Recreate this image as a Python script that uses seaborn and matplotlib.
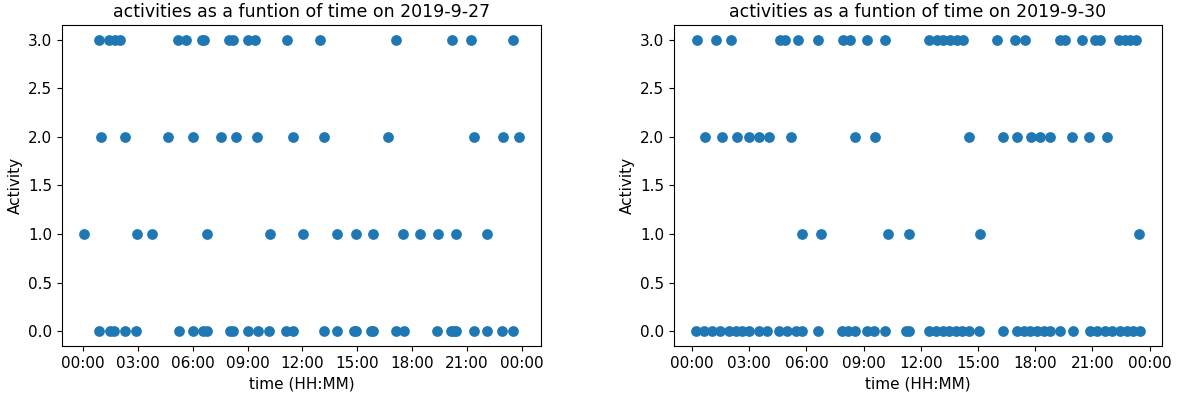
import pandas as pd
import matplotlib
matplotlib.use("Agg")
import matplotlib.pyplot as plt
import matplotlib.dates as mdates
import seaborn as sns

# --- Données (HH:MM par activité) ---
date_1 = "2019-9-27"
act0_day1 = ["00:53", "01:28", "01:42", "02:19", "02:55", "05:16", "06:02", "06:34",
             "06:46", "08:02", "08:13", "09:01", "09:33", "10:10", "11:07", "11:29",
             "13:10", "13:52", "14:49", "14:56", "15:44", "15:52", "17:06", "17:32",
             "19:22", "20:06", "20:17", "20:25", "21:22", "22:05", "22:55", "23:32"]
act1_day1 = ["00:03", "02:57", "03:48", "06:46", "10:14", "12:02", "13:52", "14:56",
             "15:51", "17:30", "18:26", "19:23", "20:23", "22:06"]
act2_day1 = ["01:01", "02:19", "04:39", "06:00", "07:32", "08:23", "09:32", "11:28",
             "13:10", "16:41", "21:22", "22:58", "23:51"]
act3_day1 = ["00:53", "01:26", "01:44", "02:02", "05:13", "05:39", "06:30", "06:37",
             "07:58", "08:13", "09:01", "09:23", "11:11", "12:59", "17:08", "20:09",
             "21:13", "23:31"]

date_2 = "2019-9-30"
act0_day2 = ["00:13", "00:38", "01:03", "01:28", "01:56", "02:19", "02:38", "02:59",
             "03:31", "03:56", "04:34", "04:59", "05:28", "05:47", "06:37", "07:53",
             "08:11", "08:34", "09:11", "09:34", "10:08", "11:14", "11:24", "12:27",
             "12:49", "13:11", "13:30", "13:52", "14:11", "14:33", "15:04", "16:20",
             "17:01", "17:23", "17:45", "18:07", "18:29", "18:45", "19:17", "19:58",
             "20:52", "21:13", "21:38", "22:01", "22:26", "22:48", "23:07", "23:29"]
act1_day2 = ["05:46", "06:46", "10:17", "11:22", "15:07", "23:25"]
act2_day2 = ["00:40", "01:35", "02:22", "02:58", "03:31", "04:02", "05:11", "08:34",
             "09:36", "14:30", "16:20", "17:03", "17:47", "18:14", "18:45", "19:56",
             "20:48", "21:46"]
act3_day2 = ["00:17", "01:14", "02:03", "04:37", "04:53", "05:33", "06:36", "07:56",
             "08:18", "09:11", "10:07", "12:27", "12:50", "13:11", "13:32", "13:53",
             "14:14", "16:00", "16:55", "17:28", "19:17", "19:32", "20:27", "21:08",
             "21:25", "22:23", "22:41", "22:59", "23:18"]


# --- Construction des tables ---
def build(date, listes):
    rows = []
    for activite, heures in enumerate(listes):
        for h in heures:
            rows.append({"time": pd.to_datetime(date + " " + h), "Activity": float(activite)})
    return pd.DataFrame(rows)


df_1 = build(date_1, [act0_day1, act1_day1, act2_day1, act3_day1])
df_2 = build(date_2, [act0_day2, act1_day2, act2_day2, act3_day2])

# --- Visualisation ---
fig = plt.figure(figsize=(11.78, 3.93), dpi=100)
ax1 = fig.add_axes([62 / 1178, 47 / 393, 479 / 1178, 321 / 393])
ax2 = fig.add_axes([674 / 1178, 47 / 393, 488 / 1178, 321 / 393])

for ax, df, date in [(ax1, df_1, date_1), (ax2, df_2, date_2)]:
    sns.scatterplot(x="time", y="Activity", data=df, ax=ax, s=60,
                    color="#1f77b4", linewidth=0)
    ax.set_title("activities as a funtion of time on " + date, fontsize=12.5)
    ax.set_xlabel("time (HH:MM)", fontsize=11)
    ax.set_ylabel("Activity", fontsize=11)
    ax.xaxis.set_major_locator(mdates.HourLocator(byhour=range(0, 24, 3)))
    ax.xaxis.set_major_formatter(mdates.DateFormatter("%H:%M"))
    ax.set_yticks([0.0, 0.5, 1.0, 1.5, 2.0, 2.5, 3.0])
    ax.set_yticklabels(["0.0", "0.5", "1.0", "1.5", "2.0", "2.5", "3.0"])
    ax.tick_params(labelsize=11)

fig.savefig("out.png", dpi=100)
